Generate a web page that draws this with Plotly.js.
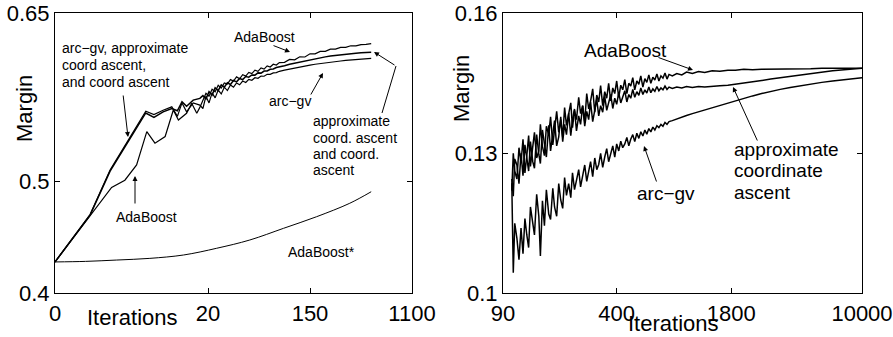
<!DOCTYPE html>
<html>
<head>
<meta charset="utf-8">
<script src="https://cdn.plot.ly/plotly-3.0.1.min.js"></script>
<style>html,body{margin:0;padding:0;background:#fff;}#chart{width:893px;height:337px;}</style>
</head>
<body>
<div id="chart"></div>
<script>
// ---------- LEFT PANEL DATA (x = axis position; ticks 0,3,5,7 are labelled 0,20,150,1100) ----------
const leftTickPos = [0, 3, 5, 7];
const leftTickText = ['0', '20', '150', '1100'];
const leftYTicks = [0.4, 0.5, 0.65];

const posAda = [0,0.69,1.11,1.37,1.60,1.80,1.96,2.16,2.32,2.42,2.58,2.68,2.78,2.84,
  2.9,2.96,3.02,3.08,3.14,3.2,3.26,3.32,3.38,3.44,3.5,3.56,3.62,3.68,3.74,3.8,3.86,3.92,3.98,4.04,4.1,4.16,4.22,4.28,4.34,4.4,
  4.5,4.6,4.7,4.8,4.9,5.0,5.1,5.2,5.3,5.4,5.5,5.6,5.7,5.8,5.9,6.0,6.1,6.2];
const marginAda = [0.428,0.470,0.4946,0.501,0.5146,0.5443,0.534,0.540,0.5637,0.5547,0.5607,0.5696,0.5607,0.566,
  0.5720,0.5785,0.5760,0.5822,0.5800,0.5858,0.5832,0.5878,0.5868,0.5908,0.5895,0.5932,0.5915,0.5952,0.5940,0.5972,0.5962,0.5992,0.5982,0.6012,0.6002,0.6030,0.6020,0.6045,0.6038,0.6060,
  0.6062,0.6088,0.6085,0.6112,0.6110,0.6138,0.6138,0.6160,0.6160,0.6180,0.6180,0.6196,0.6196,0.6210,0.6210,0.6221,0.6222,0.6230];

const posCoord = [0,0.69,1.08,1.47,1.78,1.94,2.12,2.29,2.40,2.49,2.58,2.71,2.84,
  2.9,2.96,3.02,3.08,3.14,3.2,3.26,3.32,3.38,3.44,3.5,3.56,3.62,3.68,3.74,3.8,3.86,3.92,3.98,4.04,4.1,4.16,4.22,4.28,4.34,4.4,
  4.5,4.6,4.7,4.8,4.9,5.0,5.1,5.2,5.3,5.4,5.5,5.6,5.7,5.8,5.9,6.0,6.1,6.2];
const marginCoord = [0.428,0.470,0.509,0.538,0.561,0.557,0.562,0.565,0.563,0.571,0.567,0.5725,0.574,
  0.5765,0.5735,0.5800,0.5770,0.5835,0.5810,0.5860,0.5840,0.5880,0.5865,0.5900,0.5888,0.5918,0.5908,0.5935,0.5930,0.5950,0.5948,0.5968,0.5966,0.5984,0.5985,0.6000,0.6003,0.6016,0.6020,
  0.6032,0.6045,0.6055,0.6066,0.6076,0.6086,0.6095,0.6103,0.6111,0.6118,0.6124,0.6130,0.6135,0.6140,0.6144,0.6147,0.6150,0.6153];
const marginArcLeft = [0.428,0.4705,0.510,0.5395,0.5625,0.5595,0.5635,0.5665,0.558,0.570,0.562,0.570,0.568,
  0.5650,0.5760,0.5700,0.5790,0.5745,0.5815,0.5780,0.5840,0.5810,0.5860,0.5840,0.5878,0.5862,0.5895,0.5882,0.5910,0.5902,0.5925,0.5920,0.5940,0.5938,0.5955,0.5955,0.5968,0.5970,0.5982,
  0.5992,0.6002,0.6012,0.6021,0.6030,0.6038,0.6045,0.6052,0.6058,0.6064,0.6069,0.6074,0.6079,0.6083,0.6087,0.6091,0.6095,0.6098];

const posAdaStar = [0,0.6,1.21,1.86,2.52,3.17,3.82,4.48,5.13,5.78,6.2];
const marginAdaStar = [0.428,0.4285,0.4297,0.4312,0.4342,0.4402,0.4476,0.458,0.4684,0.4804,0.4907];

// ---------- RIGHT PANEL DATA (x = iterations, log axis) ----------
const rightTicks = [90, 400, 1800, 10000];
const rightYTicks = [0.1, 0.13, 0.16];
const iterRight = [101,103,105,108,111,114,117,120,123,126,129,133,136,140,144,147,151,155,159,164,
  168,173,177,182,187,192,197,202,207,213,219,224,230,236,243,249,256,263,270,277,
  284,292,300,308,316,324,333,342,351,360,370,380,390,400,411,422,433,445,457,469,
  481,494,507,521,535,549,564,579,594,610,626,643,660,678,696,715,734,754,774,795,
  830,880,940,1000,1080,1170,1270,1400,1550,1720,1900,2120,2380,2680,3020,3420,3900,4450,5100,5900,
  6800,7900,9000,10000];
const marginAdaRight = [0.1220,0.1300,0.1262,0.1245,0.1312,0.1280,0.1330,0.1258,0.1295,0.1338,
  0.1272,0.1318,0.1345,0.1290,0.1305,0.1362,0.1315,0.1295,0.1358,0.1340,
  0.1378,0.1318,0.1352,0.1390,0.1345,0.1372,0.1335,0.1398,0.1360,0.1382,
  0.1408,0.1355,0.1392,0.1372,0.1420,0.1385,0.1402,0.1368,0.1428,0.1395,
  0.1412,0.1438,0.1388,0.1425,0.1410,0.1445,0.1402,0.1432,0.1418,0.1450,
  0.1412,0.1440,0.1428,0.1455,0.1420,0.1446,0.1436,0.1458,0.1428,0.1450,
  0.1444,0.1462,0.1436,0.1455,0.1448,0.1466,0.1442,0.1460,0.1452,0.1468,
  0.1450,0.1463,0.1457,0.1470,0.1455,0.1466,0.1461,0.1472,0.1459,0.1469,
  0.1466,0.1471,0.1468,0.1474,0.1471,0.1475,0.1473,0.1477,0.1476,0.1478,
  0.1478,0.1480,0.1479,0.1480,0.1480,0.1481,0.1481,0.1481,0.1481,0.1482,
  0.1482,0.1482,0.1482,0.1482];
const marginApproxRight = [0.1245,0.1208,0.1288,0.1275,0.1235,0.1300,0.1252,0.1318,0.1290,0.1262,
  0.1325,0.1282,0.1268,0.1340,0.1298,0.1278,0.1350,0.1320,0.1292,0.1360,
  0.1305,0.1342,0.1370,0.1316,0.1335,0.1378,0.1325,0.1362,0.1340,0.1386,
  0.1338,0.1372,0.1395,0.1348,0.1380,0.1362,0.1402,0.1358,0.1390,0.1372,
  0.1410,0.1368,0.1395,0.1416,0.1380,0.1402,0.1388,0.1422,0.1392,0.1410,
  0.1426,0.1396,0.1418,0.1405,0.1430,0.1408,0.1422,0.1434,0.1410,0.1426,
  0.1418,0.1437,0.1420,0.1432,0.1424,0.1440,0.1426,0.1436,0.1429,0.1442,
  0.1430,0.1438,0.1433,0.1443,0.1434,0.1440,0.1436,0.1444,0.1437,0.1442,
  0.1439,0.1442,0.1440,0.1443,0.1441,0.1443,0.1442,0.1444,0.1445,0.1446,
  0.1448,0.1450,0.1453,0.1456,0.1459,0.1462,0.1465,0.1468,0.1471,0.1474,
  0.1477,0.1479,0.1481,0.1482];
const marginArcRight = [0.1236,0.1044,0.1150,0.1118,0.1072,0.1140,0.1085,0.1160,0.1125,0.1098,
  0.1185,0.1150,0.1125,0.1212,0.1165,0.1080,0.1198,0.1145,0.1222,0.1170,
  0.1158,0.1225,0.1185,0.1165,0.1235,0.1200,0.1182,0.1248,0.1210,0.1235,
  0.1205,0.1258,0.1222,0.1242,0.1265,0.1228,0.1255,0.1275,0.1240,0.1262,
  0.1282,0.1250,0.1290,0.1265,0.1276,0.1300,0.1270,0.1292,0.1310,0.1282,
  0.1302,0.1316,0.1292,0.1320,0.1305,0.1326,0.1312,0.1320,0.1334,0.1316,
  0.1330,0.1340,0.1325,0.1343,0.1332,0.1346,0.1337,0.1350,0.1341,0.1353,
  0.1346,0.1356,0.1350,0.1359,0.1355,0.1362,0.1358,0.1366,0.1362,0.1368,
  0.1370,0.1374,0.1377,0.1381,0.1385,0.1389,0.1393,0.1398,0.1403,0.1408,
  0.1413,0.1418,0.1423,0.1428,0.1433,0.1437,0.1441,0.1445,0.1449,0.1452,
  0.1455,0.1458,0.1460,0.1462];

// ---------- TEXT ----------
const axisTitleX = 'Iterations';
const axisTitleY = 'Margin';

// ---------- BUILD ----------
const W = 893, H = 337;
const FONT = '"Liberation Sans", Arial, Helvetica, sans-serif';
const X = p => p / W;
const Y = p => 1 - p / H;

const line = (w) => ({color: '#000', width: w});
const traces = [
  {x: posAdaStar, y: marginAdaStar, xaxis: 'x', yaxis: 'y', mode: 'lines', line: Object.assign(line(1), {shape: 'spline'}), name: 'AdaBoost*'},
  {x: posAda, y: marginAda, xaxis: 'x', yaxis: 'y', mode: 'lines', line: line(1.2), name: 'AdaBoost'},
  {x: posCoord, y: marginArcLeft, xaxis: 'x', yaxis: 'y', mode: 'lines', line: line(1.2), name: 'arc-gv'},
  {x: posCoord, y: marginCoord, xaxis: 'x', yaxis: 'y', mode: 'lines', line: line(1.5), name: 'coord ascent'},
  {x: iterRight, y: marginArcRight, xaxis: 'x2', yaxis: 'y2', mode: 'lines', line: line(1.5), name: 'arc-gv'},
  {x: iterRight, y: marginApproxRight, xaxis: 'x2', yaxis: 'y2', mode: 'lines', line: line(1.5), name: 'approximate coordinate ascent'},
  {x: iterRight, y: marginAdaRight, xaxis: 'x2', yaxis: 'y2', mode: 'lines', line: line(1.5), name: 'AdaBoost'}
];

const axisCommon = {
  showline: true, linecolor: '#000', linewidth: 1, mirror: 'ticks',
  ticks: 'inside', ticklen: 5, tickcolor: '#000', tickwidth: 1,
  showgrid: false, zeroline: false, automargin: false,
  tickfont: {family: FONT, size: 22, color: '#000'}, tickmode: 'array'
};

const yDom = [(H - 293.3) / H, (H - 13.3) / H];

function txt(text, x, y, size, xanchor) {
  return {xref: 'paper', yref: 'paper', x: X(x), y: Y(y), text: text, showarrow: false,
    xanchor: xanchor || 'center', yanchor: 'middle', font: {family: FONT, size: size, color: '#000'}};
}
function arrow(tx, ty, hx, hy) {
  return {xref: 'paper', yref: 'paper', x: X(hx), y: Y(hy), ax: tx - hx, ay: ty - hy, text: '',
    showarrow: true, arrowhead: 2, arrowsize: 1, arrowwidth: 1, arrowcolor: '#000', standoff: 0, startstandoff: 0};
}

const annotations = [
  // axis titles
  Object.assign(txt(axisTitleY, 25, 109, 22), {textangle: -90}),
  txt(axisTitleX, 132, 317, 22),
  Object.assign(txt(axisTitleY, 461, 89, 22), {textangle: -90}),
  txt(axisTitleX, 673, 323, 22),
  // left panel labels
  txt('arc−gv, approximate', 60, 48, 14, 'left'),
  txt('coord ascent,', 60, 65, 14, 'left'),
  txt('and coord ascent', 60, 82, 14, 'left'),
  txt('AdaBoost', 264, 37, 14),
  txt('arc−gv', 290, 101, 14),
  txt('approximate', 311, 121, 14, 'left'),
  txt('coord. ascent', 311, 138, 14, 'left'),
  txt('and coord.', 311, 154, 14, 'left'),
  txt('ascent', 311, 170, 14, 'left'),
  txt('AdaBoost', 146, 217, 14),
  txt('AdaBoost*', 321, 252, 14),
  arrow(123, 94, 128, 137),
  arrow(272, 45, 290, 52),
  arrow(310, 96, 323, 73),
  arrow(396, 66, 374, 52),
  arrow(135, 205, 135, 176),
  // right panel labels
  txt('AdaBoost', 625, 50, 19),
  txt('approximate', 732, 149, 19, 'left'),
  txt('coordinate', 732, 170, 19, 'left'),
  txt('ascent', 732, 192, 19, 'left'),
  txt('arc−gv', 666, 193, 19),
  arrow(657, 57, 693, 70),
  arrow(758, 142, 733, 87),
  arrow(657, 183, 644, 146)
];

const shapes = [
  {type: 'line', xref: 'paper', yref: 'paper', x0: X(382), y0: Y(113), x1: X(396), y1: Y(66), line: {color: '#000', width: 1}}
];

const layout = {
  width: W, height: H,
  margin: {l: 0, r: 0, t: 0, b: 0, pad: 0},
  paper_bgcolor: '#fff', plot_bgcolor: '#fff',
  showlegend: false,
  font: {family: FONT, color: '#000'},
  xaxis: Object.assign({}, axisCommon, {domain: [X(55), X(412)], range: [0, 7], tickvals: leftTickPos, ticktext: leftTickText, anchor: 'y'}),
  yaxis: Object.assign({}, axisCommon, {domain: yDom, range: [0.4, 0.65], tickvals: leftYTicks, ticktext: leftYTicks.map(String), anchor: 'x'}),
  xaxis2: Object.assign({}, axisCommon, {domain: [X(503), X(862)], type: 'log', range: [Math.log10(90), 4], tickvals: rightTicks, ticktext: rightTicks.map(String), anchor: 'y2'}),
  yaxis2: Object.assign({}, axisCommon, {domain: yDom, range: [0.1, 0.16], tickvals: rightYTicks, ticktext: rightYTicks.map(String), anchor: 'x2'}),
  annotations: annotations,
  shapes: shapes
};

Plotly.newPlot('chart', traces, layout, {staticPlot: true, displayModeBar: false});
</script>
</body>
</html>
